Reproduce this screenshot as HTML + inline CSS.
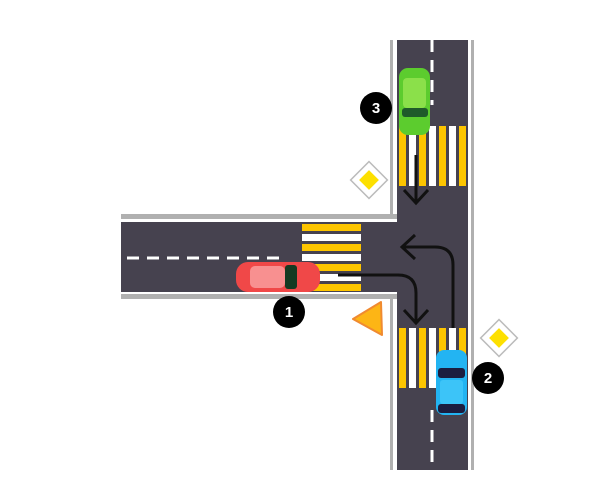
<!DOCTYPE html>
<html><head><style>body{margin:0;background:#fff}svg{display:block}</style></head><body>
<svg width="600" height="500" xmlns="http://www.w3.org/2000/svg" font-family="Liberation Sans, sans-serif">
<defs>
<marker id="ah" markerWidth="10" markerHeight="10" refX="5" refY="5" orient="auto" markerUnits="userSpaceOnUse"><path d="M-3,-5 L5,5 L-3,15" fill="none" stroke="#111" stroke-width="3" transform="translate(0,-5) scale(1,1)"/></marker>
</defs>
<!-- vertical road -->
<rect x="390" y="40" width="84" height="430" fill="#b0b0b0"/>
<rect x="393" y="40" width="78" height="430" fill="#fff"/>
<rect x="397" y="40" width="71" height="430" fill="#46424f"/>
<!-- horizontal road -->
<rect x="121" y="214" width="276" height="85" fill="#b0b0b0"/>
<rect x="121" y="219" width="276" height="75" fill="#fff"/>
<rect x="121" y="222" width="280" height="70" fill="#46424f"/>
<!-- dashes -->
<g stroke="#fff" stroke-width="3" stroke-dasharray="12,8">
<line x1="127" y1="258" x2="285" y2="258"/>
<line x1="432" y1="40" x2="432" y2="105"/>
<line x1="432" y1="410" x2="432" y2="470"/>
</g>
<!-- horizontal crosswalk -->
<g>
<rect x="302" y="224" width="59" height="7" fill="#fdc500"/>
<rect x="302" y="234" width="59" height="7" fill="#fff"/>
<rect x="302" y="244" width="59" height="7" fill="#fdc500"/>
<rect x="302" y="254" width="59" height="7" fill="#fff"/>
<rect x="302" y="264" width="59" height="7" fill="#fdc500"/>
<rect x="302" y="274" width="59" height="7" fill="#fff"/>
<rect x="302" y="284" width="59" height="7" fill="#fdc500"/>
</g>
<!-- vertical crosswalks -->
<g id="cw">
<rect x="399" y="126" width="7" height="60" fill="#fdc500"/>
<rect x="409" y="126" width="7" height="60" fill="#fff"/>
<rect x="419" y="126" width="7" height="60" fill="#fdc500"/>
<rect x="429" y="126" width="7" height="60" fill="#fff"/>
<rect x="439" y="126" width="7" height="60" fill="#fdc500"/>
<rect x="449" y="126" width="7" height="60" fill="#fff"/>
<rect x="459" y="126" width="7" height="60" fill="#fdc500"/>
</g>
<use href="#cw" transform="translate(0,202)"/>
<!-- arrows -->
<g fill="none" stroke="#111" stroke-width="3">
<line x1="416" y1="155" x2="416" y2="202"/>
<path d="M404,190 L416,203 L428,190"/>
<path d="M338,275 L398,275 Q416,275 416,293 L416,322"/>
<path d="M404,310 L416,323 L428,310"/>
<path d="M453,328 L453,265 Q453,247 435,247 L403,247"/>
<path d="M415,235 L402,247 L415,259"/>
</g>
<!-- green car -->
<rect x="399" y="68" width="31" height="67" rx="9" fill="#5ccc2e"/>
<rect x="403" y="78" width="23" height="30" rx="4" fill="#8be04a"/>
<rect x="402" y="108" width="26" height="9" rx="3" fill="#1f5a2a"/>
<!-- red car -->
<rect x="236" y="262" width="84" height="30" rx="12" fill="#f04848"/>
<rect x="250" y="266" width="35" height="22" rx="5" fill="#f89090"/>
<rect x="285" y="265" width="12" height="24" rx="3" fill="#153a22"/>
<!-- blue car -->
<rect x="436" y="350" width="31" height="65" rx="8" fill="#23b4f2"/>
<rect x="438" y="368" width="27" height="10" rx="3" fill="#1b1d3f"/>
<rect x="440" y="380" width="23" height="24" rx="3" fill="#3cc4f8"/>
<rect x="438" y="404" width="27" height="9" rx="3" fill="#1b1d3f"/>
<!-- badges -->
<g font-weight="bold" font-size="15" fill="#fff" text-anchor="middle">
<circle cx="376" cy="108" r="16" fill="#000"/><text x="376" y="113">3</text>
<circle cx="289" cy="312" r="16" fill="#000"/><text x="289" y="317">1</text>
<circle cx="488" cy="378" r="16" fill="#000"/><text x="488" y="383">2</text>
</g>
<!-- diamonds -->
<g>
<rect x="356" y="167" width="26" height="26" fill="#fff" stroke="#bbb" stroke-width="1.5" transform="rotate(45 369 180)"/>
<rect x="362" y="173" width="14" height="14" fill="#fde000" transform="rotate(45 369 180)"/>
<rect x="486" y="325" width="26" height="26" fill="#fff" stroke="#bbb" stroke-width="1.5" transform="rotate(45 499 338)"/>
<rect x="492" y="331" width="14" height="14" fill="#fde000" transform="rotate(45 499 338)"/>
</g>
<!-- triangle -->
<path d="M353,319 L381,302 L382,335 Z" fill="#fdb515" stroke="#f08a30" stroke-width="2" stroke-linejoin="round"/>
</svg>
</body></html>
